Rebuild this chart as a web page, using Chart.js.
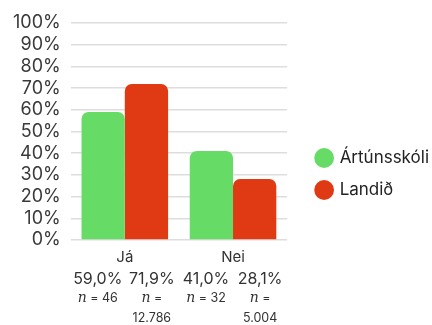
<!DOCTYPE html>
<html><head><meta charset="utf-8">
<script src="https://cdn.jsdelivr.net/npm/chart.js@4"></script>
<style>html,body{margin:0;padding:0;background:#fff}#w{width:432px;height:325px}</style>
</head><body><div id="w"><canvas id="c"></canvas></div>
<script>
const categories = ["Já", "Nei"];
const seriesNames = ["Ártúnsskóli", "Landið"];
const schoolValues = [59.0, 41.0];
const countryValues = [71.9, 28.1];
const schoolN = [46, 32];
const countryN = [12786, 5004];
const yTicks = [0,10,20,30,40,50,60,70,80,90,100];
const FONT = "Inter, 'Noto Sans', sans-serif";

function fmtPct(v){ return v.toFixed(1).replace('.', ',') + '%'; }
function fmtN(v){ return String(v).replace(/\B(?=(\d{3})+(?!\d))/g, '.'); }

const bottomLabels = {
  id: 'bottomLabels',
  afterDraw(chart){
    const ctx = chart.ctx, x = chart.scales.x, area = chart.chartArea;
    const colW = (area.right - area.left) / (categories.length * 2);
    const base = x.top;
    ctx.save();
    ctx.fillStyle = '#333';
    ctx.textBaseline = 'alphabetic';
    categories.forEach((c, i) => {
      const cx = x.getPixelForValue(i);
      const cols = [
        {x: cx - colW/2, v: schoolValues[i], n: schoolN[i]},
        {x: cx + colW/2, v: countryValues[i], n: countryN[i]}
      ];
      cols.forEach(col => {
        ctx.textAlign = 'center';
        ctx.font = '16px ' + FONT;
        ctx.fillText(fmtPct(col.v), col.x, base + 44);
        const nStr = fmtN(col.n);
        ctx.font = '12.5px ' + FONT;
        const full = 'n = ' + nStr;
        if (ctx.measureText(full).width <= colW - 6) {
          drawN(ctx, col.x, base + 62, nStr, true);
        } else {
          drawN(ctx, col.x, base + 62, '', false);
          ctx.font = '12.5px ' + FONT;
          ctx.textAlign = 'center';
          ctx.fillText(nStr, col.x, base + 82);
        }
      });
    });
    ctx.restore();
  }
};
function drawN(ctx, cx, y, nStr, withNum){
  ctx.font = 'italic 14px "DejaVu Serif", serif';
  const a = 'n';
  const wa = ctx.measureText(a).width;
  ctx.font = '12.5px ' + FONT;
  const b = withNum ? ' = ' + nStr : ' =';
  const wb = ctx.measureText(b).width;
  let sx = cx - (wa + wb)/2;
  ctx.textAlign = 'left';
  ctx.font = 'italic 14px "DejaVu Serif", serif';
  ctx.fillText(a, sx, y);
  ctx.font = '12.5px ' + FONT;
  ctx.fillText(b, sx + wa, y);
  ctx.textAlign = 'center';
}

new Chart(document.getElementById('c'), {
  type: 'bar',
  data: {
    labels: categories,
    datasets: [
      {label: seriesNames[0], data: schoolValues, backgroundColor: '#66dc66', borderRadius: {topLeft: 7, topRight: 7}, borderSkipped: 'bottom'},
      {label: seriesNames[1], data: countryValues, backgroundColor: '#e03a14', borderRadius: {topLeft: 7, topRight: 7}, borderSkipped: 'bottom'}
    ]
  },
  options: {
    responsive: true, maintainAspectRatio: false, animation: false,
    datasets: {bar: {barPercentage: 1.0, categoryPercentage: 0.8}},
    layout: {padding: {top: 23, bottom: 0, left: 3, right: -7}},
    plugins: {
      tooltip: {enabled: false},
      legend: {
        position: 'right',
        maxWidth: 220,
        labels: {usePointStyle: true, pointStyle: 'circle', boxWidth: 14, boxHeight: 14, padding: 15,
          color: '#222', font: {size: 17, family: FONT}}
      }
    },
    scales: {
      y: {
        min: 0, max: 100,
        afterBuildTicks(s){ s.ticks = yTicks.map(v => ({value: v})); },
        ticks: {autoSkip: false, callback: v => v + '%', color: '#3a3a3a', font: {size: 18, family: FONT}, padding: 10},
        grid: {color: '#dddddd', lineWidth: 1.5, drawTicks: false},
        border: {display: false}
      },
      spacer: {
        type: 'linear', position: 'right', display: true,
        ticks: {display: false}, grid: {display: false}, border: {display: false},
        afterFit(s){ s.width = 15; }
      },
      x: {
        afterFit(s){ s.height = 85; },
        ticks: {color: '#333', font: {size: 15, family: FONT}, padding: 0},
        grid: {display: false},
        border: {display: false}
      }
    }
  },
  plugins: [bottomLabels]
});
</script></body></html>
